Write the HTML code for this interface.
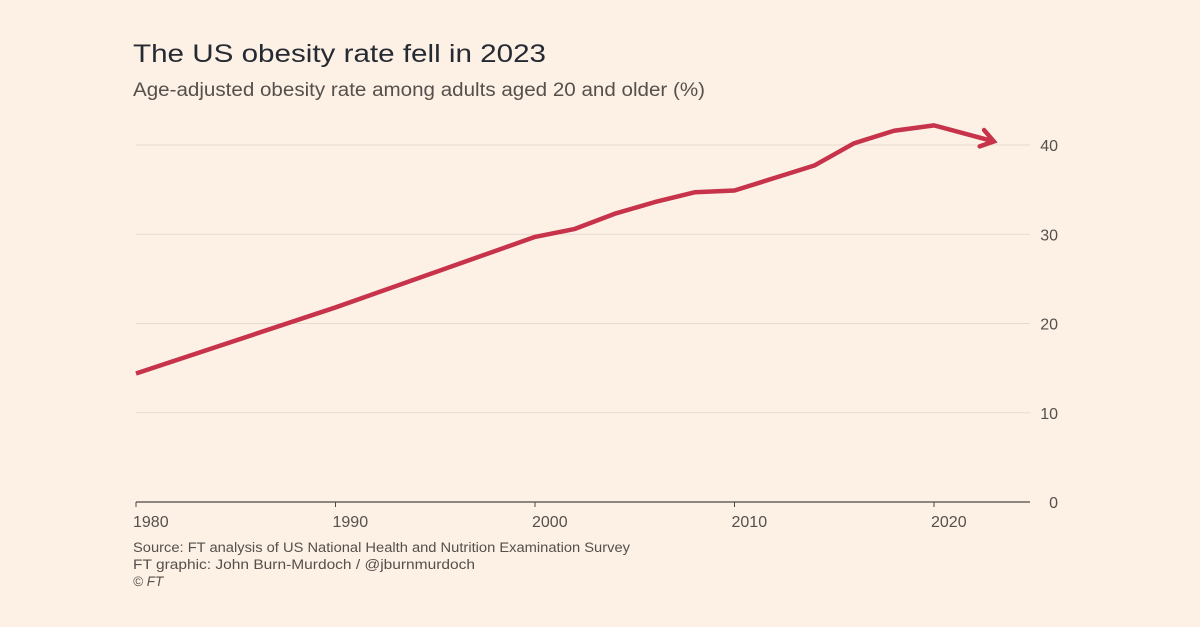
<!DOCTYPE html>
<html><head><meta charset="utf-8"><style>
body{margin:0;background:#fdf1e6;}
svg{display:block;font-family:"Liberation Sans",sans-serif;}
</style></head><body>
<svg id="c" width="1200" height="627">
<rect width="1200" height="627" fill="#fdf1e6"/>
<text x="133" y="62" font-size="25" textLength="413" lengthAdjust="spacingAndGlyphs" fill="#262a33">The US obesity rate fell in 2023</text>
<text x="133" y="96" font-size="19" textLength="572" lengthAdjust="spacingAndGlyphs" fill="#55504b">Age-adjusted obesity rate among adults aged 20 and older (%)</text>
<g id="grid"></g><g id="xax"></g><g id="series"></g>
<text x="133" y="552" font-size="13.5" textLength="497" lengthAdjust="spacingAndGlyphs" fill="#55504b">Source: FT analysis of US National Health and Nutrition Examination Survey</text>
<text x="133" y="569" font-size="13.5" textLength="342" lengthAdjust="spacingAndGlyphs" fill="#55504b">FT graphic: John Burn-Murdoch / @jburnmurdoch</text>
<text x="133" y="586" font-size="13.5" fill="#55504b" font-style="italic">© FT</text>
</svg>
<script>
const years=[1980,1990,2000,2002,2004,2006,2008,2010,2012,2014,2016,2018,2020,2023];
const rates=[14.4,21.8,29.7,30.6,32.3,33.6,34.7,34.9,36.3,37.7,40.2,41.6,42.2,40.4];
const yTicks=[0,10,20,30,40];
const xTicks=[1980,1990,2000,2010,2020];
const NS="http://www.w3.org/2000/svg";
const x=v=>136+(v-1980)*19.95;
const y=v=>502-v*8.925;
function mk(t,a,p){const e=document.createElementNS(NS,t);for(const k in a)e.setAttribute(k,a[k]);p.appendChild(e);return e;}
const g=document.getElementById('grid');
yTicks.forEach(t=>{
 if(t>0){const l=mk('line',{x1:136,x2:1030,y1:y(t),y2:y(t),stroke:'#e6dbd1','stroke-width':1},g);
 
 }
 const tx=mk('text',{x:1058,y:y(t)+6,'font-size':16,fill:'#55504b','text-anchor':'end'},g);
 tx.textContent=t;
 
 
});
const xa=document.getElementById('xax');
const ax=mk('line',{x1:136,x2:1030,y1:502,y2:502,stroke:'#4d4845','stroke-width':1.2},xa);


xTicks.forEach(t=>{
 const tk=mk('line',{x1:x(t),x2:x(t),y1:502,y2:507,stroke:'#4d4845'},xa);
 
 
 const tx=mk('text',{x:x(t)-3,y:527,'font-size':16,fill:'#55504b'},xa);
 tx.textContent=t;
 
 
});
const s=document.getElementById('series');
const pts=years.map((yr,i)=>[x(yr),y(rates[i])]);
const p=mk('polyline',{points:pts.map(q=>q.join(',')).join(' '),fill:'none',stroke:'#c7334a','stroke-width':4.5,'stroke-linejoin':'round'},s);


const a=pts[pts.length-2],b=pts[pts.length-1];
const ang=Math.atan2(b[1]-a[1],b[0]-a[0]);
const L=15;
const h1=[b[0]-L*Math.cos(ang-0.6),b[1]-L*Math.sin(ang-0.6)],h2=[b[0]-L*Math.cos(ang+0.6),b[1]-L*Math.sin(ang+0.6)];
const ar=mk('polyline',{points:[h1,b,h2].map(q=>q.join(',')).join(' '),fill:'none',stroke:'#c7334a','stroke-width':4.5,'stroke-linejoin':'miter','stroke-linecap':'round'},s);


</script>
</body></html>
